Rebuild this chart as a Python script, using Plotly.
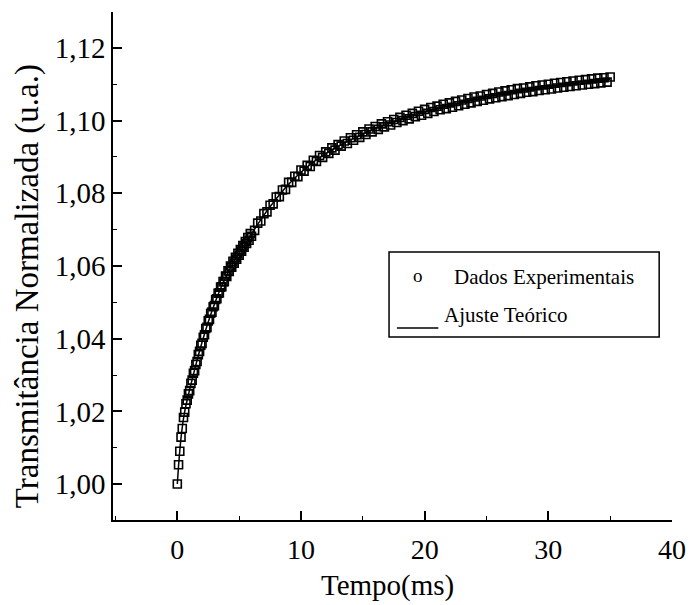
import plotly.graph_objects as go

# ---- data ----
t_exp = [0.0, 0.1, 0.2, 0.3, 0.4, 0.5, 0.6, 0.7, 0.8, 0.9, 1.0,
         1.1, 1.2, 1.3, 1.4, 1.5, 1.6, 1.7, 1.8, 1.9, 2.0,
         2.1, 2.2, 2.3, 2.4, 2.5, 2.6, 2.7, 2.8, 2.9, 3.0,
         3.1, 3.2, 3.3, 3.4, 3.5, 3.6, 3.7, 3.8, 3.9, 4.0,
         4.1, 4.2, 4.3, 4.4, 4.5, 4.6, 4.7, 4.8, 4.9, 5.0,
         5.1, 5.2, 5.3, 5.4, 5.5, 5.6, 5.7, 5.8, 5.9, 6.0,
         6.25, 6.5, 6.75, 7.0, 7.25, 7.5, 7.75, 8.0, 8.25, 8.5, 8.75, 9.0,
         9.25, 9.5, 9.75, 10.0, 10.25, 10.5, 10.75, 11.0, 11.25, 11.5, 11.75, 12.0,
         12.25, 12.5, 12.75, 13.0, 13.25, 13.5, 13.75, 14.0, 14.25, 14.5, 14.75, 15.0,
         15.25, 15.5, 15.75, 16.0, 16.25, 16.5, 16.75, 17.0, 17.25, 17.5, 17.75, 18.0,
         18.25, 18.5, 18.75, 19.0, 19.25, 19.5, 19.75, 20.0, 20.25, 20.5, 20.75, 21.0,
         21.25, 21.5, 21.75, 22.0, 22.25, 22.5, 22.75, 23.0, 23.25, 23.5, 23.75, 24.0,
         24.25, 24.5, 24.75, 25.0, 25.25, 25.5, 25.75, 26.0, 26.25, 26.5, 26.75, 27.0,
         27.25, 27.5, 27.75, 28.0, 28.25, 28.5, 28.75, 29.0, 29.25, 29.5, 29.75, 30.0,
         30.25, 30.5, 30.75, 31.0, 31.25, 31.5, 31.75, 32.0, 32.25, 32.5, 32.75, 33.0,
         33.25, 33.5, 33.75, 34.0, 34.25, 34.5, 34.75, 35.0]

T_exp = [1.0000, 1.0053, 1.0090, 1.0129, 1.0153, 1.0183, 1.0198, 1.0221, 1.0231, 1.0248, 1.0257,
         1.0277, 1.0286, 1.0305, 1.0312, 1.0329, 1.0337, 1.0356, 1.0365, 1.0382, 1.0387,
         1.0404, 1.0411, 1.0428, 1.0431, 1.0449, 1.0453, 1.0470, 1.0473, 1.0488, 1.0491,
         1.0508, 1.0510, 1.0525, 1.0526, 1.0542, 1.0543, 1.0557, 1.0557, 1.0572, 1.0571,
         1.0587, 1.0585, 1.0600, 1.0597, 1.0613, 1.0608, 1.0624, 1.0619, 1.0635, 1.0630,
         1.0645, 1.0641, 1.0656, 1.0652, 1.0667, 1.0662, 1.0678, 1.0671, 1.0689, 1.0682,
         1.0698, 1.0718, 1.0724, 1.0744, 1.0749, 1.0767, 1.0771, 1.0790, 1.0791, 1.0809, 1.0811, 1.0830,
         1.0830, 1.0847, 1.0846, 1.0864, 1.0861, 1.0877, 1.0874, 1.0891, 1.0888, 1.0904, 1.0899, 1.0914,
         1.0910, 1.0925, 1.0919, 1.0934, 1.0930, 1.0944, 1.0937, 1.0953, 1.0946, 1.0961, 1.0954, 1.0969,
         1.0962, 1.0977, 1.0969, 1.0984, 1.0976, 1.0991, 1.0983, 1.0997, 1.0988, 1.1003, 1.0995, 1.1009,
         1.1000, 1.1015, 1.1005, 1.1020, 1.1011, 1.1026, 1.1015, 1.1031, 1.1020, 1.1036, 1.1025, 1.1040,
         1.1030, 1.1045, 1.1033, 1.1049, 1.1037, 1.1053, 1.1041, 1.1057, 1.1045, 1.1061, 1.1049, 1.1065,
         1.1053, 1.1068, 1.1056, 1.1072, 1.1060, 1.1075, 1.1063, 1.1079, 1.1066, 1.1082, 1.1069, 1.1085,
         1.1072, 1.1088, 1.1075, 1.1090, 1.1078, 1.1093, 1.1080, 1.1096, 1.1083, 1.1098, 1.1085, 1.1100,
         1.1087, 1.1103, 1.1090, 1.1105, 1.1092, 1.1107, 1.1094, 1.1109, 1.1096, 1.1111, 1.1098, 1.1113,
         1.1100, 1.1115, 1.1102, 1.1117, 1.1104, 1.1118, 1.1106, 1.1120]

t_fit = [0, 0.1, 0.2, 0.3, 0.4, 0.5, 0.6, 0.8, 1.0, 1.5, 2.0, 2.5, 3.0, 3.5, 4.0, 4.5, 5.0,
         6, 7, 8, 9, 10, 11, 12, 13, 14, 15, 16, 17, 18, 19, 20, 21, 22, 23, 24, 25,
         26, 27, 28, 29, 30, 31, 32, 33, 34, 35]
T_fit = [1.0000, 1.0050, 1.0092, 1.0127, 1.0156, 1.0180, 1.0200, 1.0232, 1.0260, 1.0328,
         1.0390, 1.0446, 1.0495, 1.0538, 1.0575, 1.0608, 1.0635,
         1.0688, 1.0740, 1.0785, 1.0825, 1.0858, 1.0886, 1.0909, 1.0929, 1.0947, 1.0963,
         1.0978, 1.0991, 1.1003, 1.1014, 1.1024, 1.1034, 1.1042, 1.1050, 1.1058, 1.1065,
         1.1072, 1.1078, 1.1083, 1.1089, 1.1093, 1.1098, 1.1102, 1.1106, 1.1110, 1.1114]

x_tickvals = [0, 10, 20, 30, 40]
x_ticktext = ["0", "10", "20", "30", "40"]
y_tickvals = [1.00, 1.02, 1.04, 1.06, 1.08, 1.10, 1.12]
y_ticktext = ["1,00", "1,02", "1,04", "1,06", "1,08", "1,10", "1,12"]

legend_names = ["Dados Experimentais", "Ajuste Teórico"]
x_title = "Tempo(ms)"
y_title = "Transmitância Normalizada (u.a.)"

FONT = "Liberation Serif"
INK = "#000000"

fig = go.Figure()
fig.add_trace(go.Scatter(
    x=t_fit, y=T_fit, mode="lines", name=legend_names[1],
    line=dict(color=INK, width=1.5, shape="spline"), showlegend=False,
    hoverinfo="skip"))
fig.add_trace(go.Scatter(
    x=t_exp, y=T_exp, mode="markers", name=legend_names[0],
    marker=dict(symbol="square-open", size=8, color=INK,
                line=dict(color=INK, width=1.6)),
    showlegend=False, hoverinfo="skip"))

axis_common = dict(showline=True, linecolor=INK, linewidth=1.5, mirror=False,
                   showgrid=False, zeroline=False, ticks="inside", tickcolor=INK,
                   tickwidth=1.5, ticklen=9,
                   tickfont=dict(family=FONT, size=28, color=INK))

fig.update_xaxes(range=[-5.2, 40], tickmode="array", tickvals=x_tickvals,
                 ticktext=x_ticktext,
                 minor=dict(ticks="inside", ticklen=4, tick0=0, dtick=5,
                            tickcolor=INK, tickwidth=1.3),
                 ticklabelstandoff=4,
                 **axis_common)
axis_y = dict(axis_common)
axis_y["tickfont"] = dict(family=FONT, size=29, color=INK)
fig.update_yaxes(range=[0.9901, 1.1299], tickmode="array", tickvals=y_tickvals,
                 ticktext=y_ticktext,
                 minor=dict(ticks="inside", ticklen=4, tick0=1.0, dtick=0.01,
                            tickcolor=INK, tickwidth=1.3),
                 **axis_y)

# plot area in pixels: x 113..680, y 12..520
L, R, T, B = 113, 680, 12, 520
W, H = R - L, B - T
def px(xp):
    return (xp - L) / W
def py(yp):
    return (B - yp) / H

annotations = [
    dict(text=x_title, x=px(391), y=py(585), xref="paper", yref="paper",
         showarrow=False, font=dict(family=FONT, size=29, color=INK),
         xanchor="center", yanchor="middle"),
    dict(text=y_title, x=px(27), y=py(286), xref="paper", yref="paper",
         showarrow=False, textangle=-90,
         font=dict(family=FONT, size=33, color=INK),
         xanchor="center", yanchor="middle"),
    dict(text="o", x=px(422), y=py(275), xref="paper", yref="paper",
         showarrow=False, font=dict(family=FONT, size=19, color=INK),
         xanchor="center", yanchor="middle"),
    dict(text=legend_names[0], x=px(457), y=py(277), xref="paper", yref="paper",
         showarrow=False, font=dict(family=FONT, size=21, color=INK),
         xanchor="left", yanchor="middle"),
    dict(text=legend_names[1], x=px(447), y=py(315), xref="paper", yref="paper",
         showarrow=False, font=dict(family=FONT, size=21, color=INK),
         xanchor="left", yanchor="middle"),
]
shapes = [
    dict(type="rect", xref="paper", yref="paper", x0=px(393), x1=px(667),
         y0=py(337), y1=py(252), line=dict(color=INK, width=1.5),
         fillcolor="white", layer="above"),
    dict(type="line", xref="paper", yref="paper", x0=px(401), x1=px(443),
         y0=py(328), y1=py(328), line=dict(color=INK, width=1.5)),
]

fig.update_layout(
    width=698, height=605,
    margin=dict(l=L, r=698 - R, t=T, b=605 - B, pad=0),
    paper_bgcolor="white", plot_bgcolor="white",
    showlegend=False,
    annotations=annotations, shapes=shapes,
    font=dict(family=FONT, color=INK),
)

fig.write_html("out.html")
